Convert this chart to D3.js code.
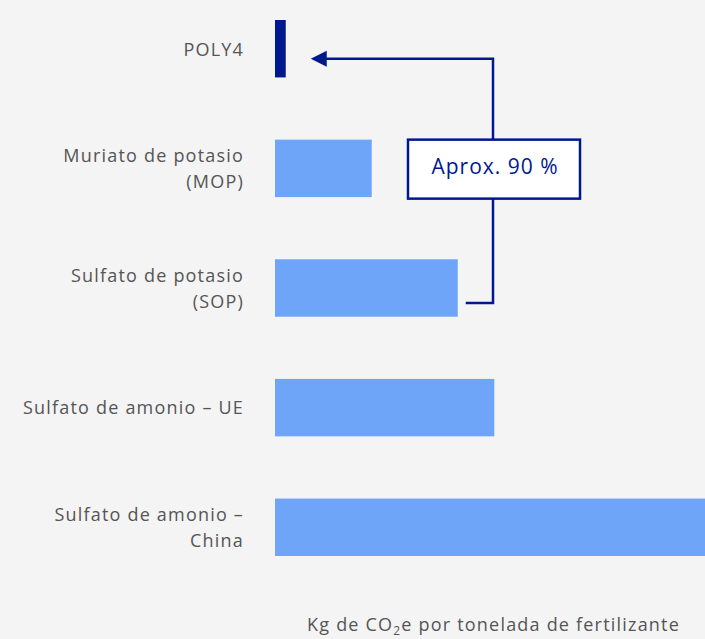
<!DOCTYPE html>
<html>
<head>
<meta charset="utf-8">
<script src="https://cdn.jsdelivr.net/npm/d3@7"></script>
<style>
  body { margin: 0; background: #f4f4f4; }
  svg { display: block; font-family: "Open Sans", "Noto Sans", sans-serif; }
</style>
</head>
<body>
<div id="chart"></div>
<script>
// categories (label lines) and values, kg CO2e per tonne
const categories = ["POLY4", "MOP", "SOP", "UE", "China"]
const labelLines = [
    ["POLY4"],
    ["Muriato de potasio", "(MOP)"],
    ["Sulfato de potasio", "(SOP)"],
    ["Sulfato de amonio – UE"],
    ["Sulfato de amonio –", "China"]
]
const values = [25, 225, 425, 510, 1000]
const barColors = ["#00188f", "#6fa5f9", "#6fa5f9", "#6fa5f9", "#6fa5f9"]

const width = 705, height = 639

const svg = d3.select("#chart").append("svg")
    .attr("width", width)
    .attr("height", height)

svg.append("rect").attr("width", width).attr("height", height).attr("fill", "#f4f4f4")

const x = d3.scaleLinear().domain([0, 1000]).range([275, 705])
const y = d3.scaleBand().domain(categories).range([20, 556]).paddingInner(0.52).paddingOuter(0)

svg.selectAll(".bar")
    .data(categories)
    .join("rect")
    .attr("class", "bar")
    .attr("x", x(0))
    .attr("y", d => y(d))
    .attr("width", (d, i) => x(values[i]) - x(0))
    .attr("height", y.bandwidth())
    .attr("fill", (d, i) => barColors[i])

// category labels, right aligned
const labels = svg.selectAll(".label")
    .data(categories)
    .join("text")
    .attr("class", "label")
    .attr("text-anchor", "end")
    .attr("fill", "#555")
    .style("font-size", "18px")
    .style("letter-spacing", "1.2px")

labels.each(function(d, i) {
    const lines = labelLines[i]
    const lineH = 26
    const cy = y(d) + y.bandwidth() / 2 + 0.5
    const t = d3.select(this)
    lines.forEach((ln, k) => {
        t.append("tspan")
            .attr("x", 244)
            .attr("y", cy + (k - (lines.length - 1) / 2) * lineH)
            .attr("dy", "0.35em")
            .text(ln)
    })
})

// annotation: arrow from SOP back to POLY4
const navy = "#00188f"
const ax = 493
const yTop = y("POLY4") + y.bandwidth() / 2 + 10
const yBot = y("SOP") + y.bandwidth() / 2 + 15
const tipX = x(values[0]) + 25

svg.append("path")
    .attr("d", `M${x(values[2]) + 8},${yBot} H${ax} V${yTop} H${tipX + 12}`)
    .attr("fill", "none")
    .attr("stroke", navy)
    .attr("stroke-width", 2.5)

svg.append("path")
    .attr("d", `M${tipX},${yTop} L${tipX + 16},${yTop - 8} L${tipX + 16},${yTop + 8} Z`)
    .attr("fill", navy)

const boxY = y("MOP"), boxH = 59
svg.append("rect")
    .attr("x", 408).attr("y", boxY)
    .attr("width", 172).attr("height", boxH)
    .attr("fill", "#fff")
    .attr("stroke", navy)
    .attr("stroke-width", 2.5)

svg.append("text")
    .attr("x", 495).attr("y", 174)
    .attr("text-anchor", "middle")
    .attr("fill", navy)
    .style("font-size", "21px")
    .style("letter-spacing", "1px")
    .text("Aprox. 90 %")

// axis title
const title = svg.append("text")
    .attr("x", 680).attr("y", 631)
    .attr("text-anchor", "end")
    .attr("fill", "#555")
    .style("font-size", "18px")
    .style("letter-spacing", "1.2px")
title.append("tspan").text("Kg de CO")
title.append("tspan").attr("dy", 4).style("font-size", "12px").text("2")
title.append("tspan").attr("dy", -4).text("e por tonelada de fertilizante")
</script>
</body>
</html>
